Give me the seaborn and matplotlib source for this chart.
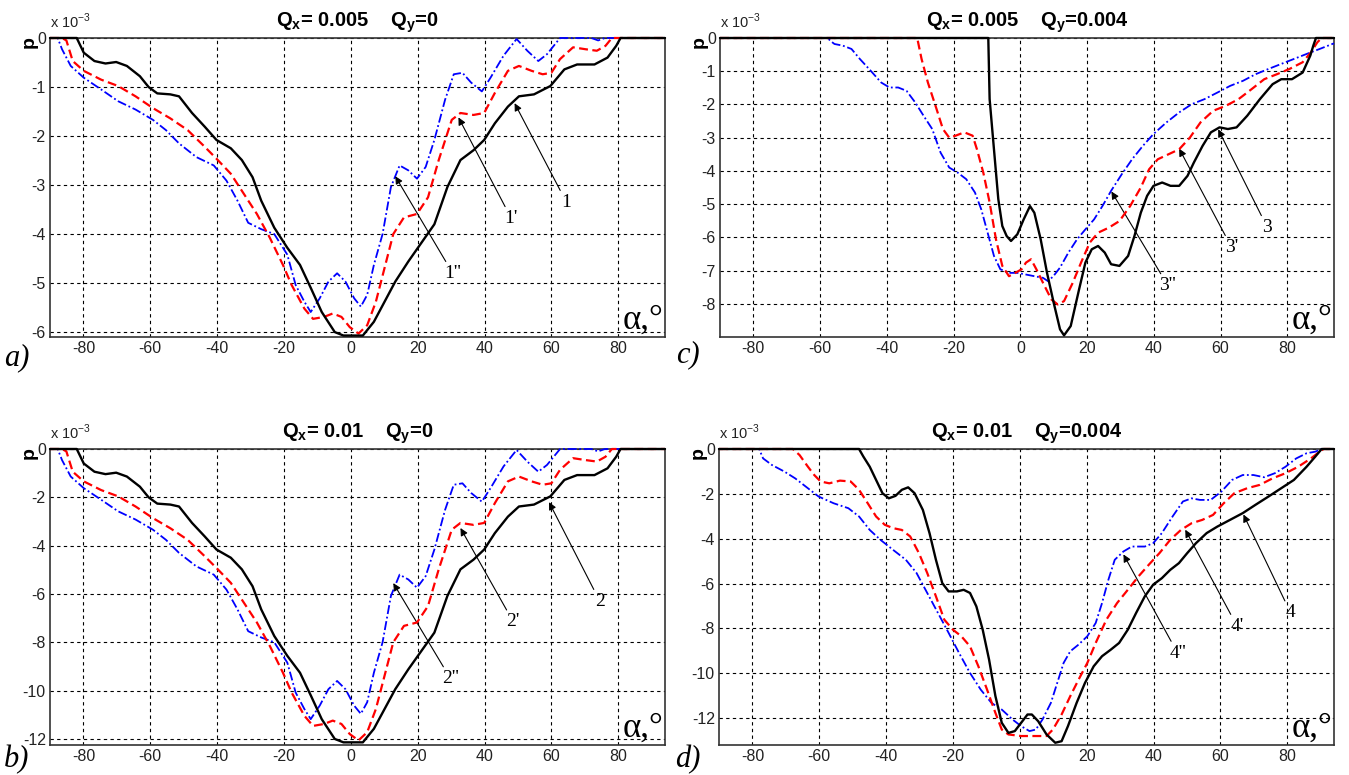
import numpy as np
import pandas as pd
import matplotlib
matplotlib.use("Agg")
import matplotlib.pyplot as plt
import seaborn as sns
from matplotlib import font_manager

# ---------------- data ----------------
# Panel a: Qx=0.005, Qy=0
a_black_x = [-90, -82, -79.9, -76.7, -73.4, -70.2, -67, -63.1, -60.5, -57.9, -54, -51.4, -47.5, -43.7, -40.2, -35.9, -32.6, -29.4, -26.8, -22.9, -19, -15.2, -11.9, -8.7, -4.8, -2.2, 0.4, 3.6, 6.9, 10.1, 13.3, 17.2, 21.1, 25, 28.9, 32.8, 36.7, 39.9, 43.1, 47, 50.3, 54.8, 59.7, 63.9, 67.7, 72.9, 76.8, 79.4, 80.7, 94]
a_black_y = [0, 0, -0.30, -0.47, -0.52, -0.49, -0.57, -0.78, -1.0, -1.13, -1.15, -1.19, -1.53, -1.81, -2.08, -2.25, -2.49, -2.84, -3.32, -3.87, -4.28, -4.63, -5.11, -5.59, -6.0, -6.07, -6.07, -6.07, -5.79, -5.38, -4.97, -4.56, -4.18, -3.8, -3.04, -2.49, -2.29, -2.08, -1.74, -1.4, -1.19, -1.15, -0.98, -0.64, -0.54, -0.54, -0.4, -0.16, 0, 0]
a_red_x = [-90, -86.4, -85.1, -83.2, -79.9, -74.7, -69.6, -64.4, -59.2, -54, -48.8, -43.7, -39.8, -35.9, -32, -28.1, -24.2, -20.3, -17.7, -13.9, -11.3, -8, -5.4, -2.8, -0.3, 2.3, 4.9, 7.5, 10.1, 12.7, 15.9, 19.8, 23.1, 26.3, 30.2, 32.8, 36.7, 39.9, 43.1, 47, 50.3, 54.1, 57.4, 60, 62.6, 66.5, 70.3, 73.6, 76.2, 78.1, 94]
a_red_y = [0, 0, -0.05, -0.47, -0.67, -0.85, -0.98, -1.19, -1.43, -1.64, -1.88, -2.22, -2.49, -2.77, -3.18, -3.59, -4.08, -4.63, -5.04, -5.52, -5.73, -5.69, -5.62, -5.69, -5.9, -6.03, -5.86, -5.38, -4.69, -4.0, -3.66, -3.59, -3.25, -2.49, -1.67, -1.53, -1.57, -1.53, -1.12, -0.67, -0.57, -0.67, -0.74, -0.71, -0.43, -0.19, -0.23, -0.26, -0.16, 0, 0]
a_blue_x = [-90, -87.7, -86.4, -83.8, -79.9, -74.7, -69.6, -64.4, -59.2, -55.3, -51.4, -46.2, -41, -37.2, -33.9, -30.7, -26.8, -22.9, -19, -16.5, -13.9, -12, -9.3, -6.7, -4.1, -1.6, 1, 3, 4.9, 6.9, 9.5, 12, 14.6, 17.2, 19.8, 22.4, 25, 28.2, 30.8, 33.4, 36, 39.2, 41.8, 45.7, 49.6, 52.8, 56.1, 58.7, 62.6, 72, 74, 76, 94]
a_blue_y = [0, 0, -0.23, -0.57, -0.81, -1.05, -1.29, -1.46, -1.67, -1.88, -2.15, -2.43, -2.6, -2.91, -3.32, -3.77, -3.9, -4.0, -4.42, -5.04, -5.38, -5.59, -5.31, -4.97, -4.8, -4.97, -5.31, -5.48, -5.24, -4.63, -4.0, -3.04, -2.6, -2.7, -2.87, -2.63, -2.08, -1.26, -0.74, -0.71, -0.91, -1.09, -0.81, -0.36, -0.02, -0.26, -0.47, -0.33, 0, 0, -0.05, 0, 0]

# Panel b: Qx=0.01, Qy=0
b_black_x = [-90, -82, -79.9, -76.7, -73.4, -70.2, -67, -63.1, -60.5, -57.9, -54, -51.4, -47.5, -43.7, -40.2, -35.9, -32.6, -29.4, -26.8, -22.9, -19, -15.2, -11.9, -8.7, -4.8, -2.2, 0.4, 3.6, 6.9, 10.1, 13.3, 17.2, 21.1, 25, 28.9, 32.8, 36.7, 39.9, 43.1, 47, 50.3, 54.8, 59.7, 63.9, 67.7, 72.9, 76.8, 79.4, 80.7, 94]
b_black_y = [0, 0, -0.6, -0.94, -1.04, -0.98, -1.14, -1.56, -2.0, -2.26, -2.3, -2.38, -3.06, -3.62, -4.16, -4.5, -4.98, -5.68, -6.64, -7.74, -8.56, -9.26, -10.22, -11.18, -12.0, -12.14, -12.14, -12.14, -11.58, -10.76, -9.94, -9.12, -8.36, -7.6, -6.08, -4.98, -4.58, -4.16, -3.48, -2.8, -2.38, -2.3, -1.96, -1.28, -1.08, -1.08, -0.8, -0.32, 0, 0]
b_red_x = [-90, -86.4, -85.1, -83.2, -79.9, -74.7, -69.6, -64.4, -59.2, -54, -48.8, -43.7, -39.8, -35.9, -32, -28.1, -24.2, -20.3, -17.7, -13.9, -11.3, -8, -5.4, -2.8, -0.3, 2.3, 4.9, 7.5, 10.1, 12.7, 15.9, 19.8, 23.1, 26.3, 30.2, 32.8, 36.7, 39.9, 43.1, 47, 50.3, 54.1, 57.4, 60, 62.6, 66.5, 70.3, 73.6, 76.2, 78.1, 94]
b_red_y = [0, 0, -0.1, -0.94, -1.34, -1.7, -1.96, -2.38, -2.86, -3.28, -3.76, -4.44, -4.98, -5.54, -6.36, -7.18, -8.16, -9.26, -10.08, -11.04, -11.46, -11.38, -11.24, -11.38, -11.8, -12.06, -11.72, -10.76, -9.38, -8.0, -7.32, -7.18, -6.5, -4.98, -3.34, -3.06, -3.14, -3.06, -2.24, -1.34, -1.14, -1.34, -1.48, -1.42, -0.86, -0.38, -0.46, -0.52, -0.32, 0, 0]
b_blue_x = [-90, -87.7, -86.4, -83.8, -79.9, -74.7, -69.6, -64.4, -59.2, -55.3, -51.4, -46.2, -41, -37.2, -33.9, -30.7, -26.8, -22.9, -19, -16.5, -13.9, -12, -9.3, -6.7, -4.1, -1.6, 1, 3, 4.9, 6.9, 9.5, 12, 14.6, 17.2, 19.8, 22.4, 25, 28.2, 30.8, 33.4, 36, 39.2, 41.8, 45.7, 49.6, 52.8, 56.1, 58.7, 62.6, 72, 74, 76, 94]
b_blue_y = [0, 0, -0.46, -1.14, -1.62, -2.1, -2.58, -2.92, -3.34, -3.76, -4.3, -4.86, -5.2, -5.82, -6.64, -7.54, -7.8, -8.0, -8.84, -10.08, -10.76, -11.18, -10.62, -9.94, -9.6, -9.94, -10.62, -10.96, -10.48, -9.26, -8.0, -6.08, -5.2, -5.4, -5.74, -5.26, -4.16, -2.52, -1.48, -1.42, -1.82, -2.18, -1.62, -0.72, -0.04, -0.52, -0.94, -0.66, 0, 0, -0.1, 0, 0]

# Panel c: Qx=0.005, Qy=0.004
c_black_x = [-90, -9.6, -9.2, -7.9, -6.6, -5.4, -4.1, -2.8, -0.9, 1, 2.9, 4.2, 6.1, 8, 10, 11.9, 13.1, 15.1, 17.6, 19.5, 21.4, 23.3, 25.3, 27.2, 29.7, 32.3, 34.2, 36.1, 38, 39.9, 42.5, 45, 47.6, 50.1, 52, 54.6, 57.1, 59.7, 62.2, 64.8, 68, 71.8, 75.6, 78.2, 81.4, 84.6, 86.9, 87.8, 88.6, 94]
c_black_y = [0, 0, -1.84, -3.35, -4.85, -5.66, -5.96, -6.11, -5.91, -5.46, -5.06, -5.26, -6.06, -7.07, -7.97, -8.77, -8.95, -8.67, -7.57, -6.76, -6.36, -6.26, -6.46, -6.81, -6.86, -6.56, -5.96, -5.26, -4.75, -4.45, -4.35, -4.45, -4.45, -4.15, -3.75, -3.25, -2.84, -2.69, -2.74, -2.69, -2.34, -1.84, -1.39, -1.24, -1.24, -1.04, -0.53, -0.23, 0, 0]
c_red_x = [-90, -30.9, -29.6, -27.7, -25.1, -23.2, -21.3, -19.4, -16.8, -14.3, -13, -11.1, -9.2, -7.3, -5.4, -3.4, -1.5, 0.4, 1.7, 3.2, 4.8, 6.8, 9.3, 11.2, 13.1, 15.7, 18.2, 20.8, 23.3, 26.5, 29.7, 32.9, 36.1, 38.6, 41.2, 44.4, 47.6, 50.8, 54, 57.8, 61.6, 65.4, 69.3, 73.1, 76.9, 80.7, 84.6, 87.1, 89, 90.3, 94]
c_red_y = [0, 0, -0.63, -1.34, -2.14, -2.74, -3.0, -2.94, -2.84, -2.94, -3.35, -4.05, -4.95, -6.06, -6.86, -7.17, -7.07, -6.96, -6.76, -6.66, -6.96, -7.37, -7.87, -8.02, -7.92, -7.37, -6.76, -6.16, -5.86, -5.71, -5.51, -5.06, -4.5, -3.95, -3.65, -3.5, -3.35, -3.0, -2.54, -2.19, -2.04, -1.84, -1.54, -1.24, -1.09, -0.93, -0.73, -0.43, -0.13, 0, 0]
c_blue_x = [-90, -57.7, -57, -55.7, -53.2, -50.6, -48.1, -44.9, -41.7, -39.2, -36.6, -34.1, -31.5, -29, -26.4, -23.9, -21.3, -18.8, -16.2, -13.6, -11.7, -9.8, -7.9, -6, -3.4, -0.9, 1.7, 4.2, 6.8, 8.3, 9.9, 11.9, 14.4, 17, 19.5, 22.1, 24.6, 27.2, 30.4, 33.5, 36.7, 39.9, 43.8, 47.6, 51.4, 55.2, 59.1, 62.9, 66.7, 70.5, 74.4, 78.2, 82, 85.8, 89.7, 93.5, 94]
c_blue_y = [0, 0, -0.08, -0.18, -0.23, -0.33, -0.63, -0.98, -1.34, -1.49, -1.49, -1.59, -1.94, -2.34, -2.74, -3.45, -3.9, -4.05, -4.25, -4.65, -5.16, -5.86, -6.56, -6.96, -7.07, -7.07, -7.12, -7.17, -7.22, -7.32, -7.17, -6.91, -6.46, -6.06, -5.76, -5.46, -5.06, -4.6, -4.1, -3.65, -3.25, -2.89, -2.54, -2.24, -1.99, -1.84, -1.64, -1.44, -1.29, -1.09, -0.93, -0.78, -0.63, -0.48, -0.33, -0.18, -0.16]

# Panel d: Qx=0.01, Qy=0.004
d_black_x = [-90, -48.1, -46.8, -44.9, -43, -41.1, -39.2, -37.2, -35.3, -33.4, -31.5, -29, -27, -25.1, -23.2, -21.3, -18.8, -16.8, -14.9, -13, -11.1, -9.2, -7.3, -5.4, -3.4, -1.5, 0.4, 2.3, 3.6, 5.5, 8, 10.6, 12.5, 14.4, 17, 19.5, 22.1, 24.6, 27.2, 29.7, 32.3, 34.8, 37.4, 39.9, 42.5, 45, 47.6, 50.1, 52.7, 55.9, 59.1, 62.9, 66.7, 70.5, 74.4, 78.2, 82, 85.8, 88.4, 90.3, 94]
d_black_y = [0, 0, -0.34, -0.79, -1.38, -1.97, -2.2, -2.09, -1.82, -1.71, -1.97, -2.72, -3.76, -4.94, -5.98, -6.35, -6.35, -6.28, -6.42, -7.02, -8.06, -9.39, -11.02, -12.21, -12.66, -12.58, -12.21, -11.84, -11.84, -12.14, -12.73, -13.1, -13.03, -12.36, -11.32, -10.43, -9.69, -9.24, -8.95, -8.65, -8.06, -7.31, -6.57, -6.05, -5.76, -5.39, -5.09, -4.64, -4.2, -3.75, -3.46, -3.16, -2.86, -2.49, -2.12, -1.75, -1.38, -0.79, -0.34, 0, 0]
d_red_x = [-90, -67.9, -65.9, -63.4, -61.5, -59.6, -57, -53.8, -50.6, -48.1, -45.5, -43, -40.4, -37.9, -35.3, -32.8, -30.2, -27.7, -25.1, -22.6, -20, -17.5, -14.9, -12.4, -9.8, -7.3, -5.4, -3.4, 0.4, 4.2, 8, 9.9, 12.5, 15.1, 17.6, 20.2, 22.7, 25.9, 29.1, 32.3, 35.5, 38.6, 41.8, 45, 48.2, 51.4, 54.6, 57.8, 61, 64.2, 68, 71.8, 75.6, 79.5, 83.3, 87.1, 89.7, 90.9, 94]
d_red_y = [0, 0, -0.27, -0.79, -1.16, -1.45, -1.53, -1.41, -1.45, -1.82, -2.42, -3.01, -3.38, -3.53, -3.61, -3.9, -4.64, -5.53, -6.57, -7.61, -8.06, -8.35, -8.8, -9.69, -10.73, -11.77, -12.51, -12.73, -12.8, -12.8, -12.8, -12.51, -11.84, -11.02, -10.28, -9.54, -8.65, -7.61, -6.87, -6.28, -5.68, -5.16, -4.64, -4.05, -3.61, -3.31, -3.16, -2.94, -2.42, -1.97, -1.75, -1.6, -1.31, -1.08, -0.79, -0.42, -0.12, 0, 0]
d_blue_x = [-90, -78, -76.8, -74.2, -70.4, -67.2, -63.4, -60.2, -55.7, -51.3, -48.1, -44.9, -41.7, -37.9, -34.1, -30.9, -27.7, -24.5, -21.3, -18.2, -14.9, -11.7, -8.5, -5.4, -2.2, 0.4, 2.9, 4.8, 6.8, 9.3, 11.2, 13.1, 15.1, 17.6, 20.2, 22.7, 24.6, 26.5, 28.4, 31, 33.5, 37.4, 39.9, 42.5, 45.7, 48.8, 51.4, 53.9, 57.1, 60.3, 63.5, 66.7, 69.9, 73.1, 76.3, 79.5, 82.7, 85.8, 88.4, 90.3, 94]
d_blue_y = [0, 0, -0.42, -0.71, -1.01, -1.31, -1.75, -2.12, -2.42, -2.64, -3.01, -3.61, -4.05, -4.5, -4.94, -5.53, -6.42, -7.31, -8.2, -9.09, -9.99, -10.73, -11.32, -11.62, -12.06, -12.36, -12.58, -12.51, -12.06, -11.32, -10.43, -9.54, -9.02, -8.72, -8.35, -7.76, -6.87, -5.83, -4.94, -4.57, -4.35, -4.35, -4.2, -3.75, -3.01, -2.34, -2.2, -2.27, -2.27, -1.9, -1.38, -1.16, -1.16, -1.26, -1.08, -0.79, -0.42, -0.19, -0.12, 0, 0]

qx_values = ["0.005", "0.005", "0.01", "0.01"]
qy_values = ["0", "0.004", "0", "0.004"]
panel_letters = ["a)", "c)", "b)", "d)"]
x_ticks = [-80, -60, -40, -20, 0, 20, 40, 60, 80]
y_ticks_list = [[0, -1, -2, -3, -4, -5, -6], [0, -1, -2, -3, -4, -5, -6, -7, -8],
                [0, -2, -4, -6, -8, -10, -12], [0, -2, -4, -6, -8, -10, -12]]
y_bottoms = [-6.1, -9.0, -12.25, -13.2]

# annotation labels: (text, text position, arrow tip)
ann_a = [("1", (64.5, -3.35), (49.0, -1.33)), ("1'", (48.0, -3.68), (32.2, -1.62)), ("1''", (30.5, -4.8), (13.3, -2.82))]
ann_c = [("3", (74.0, -5.7), (59.3, -2.75)), ("3'", (63.3, -6.3), (47.6, -3.33)), ("3''", (44.2, -7.45), (27.3, -4.62))]
ann_b = [("2", (74.5, -6.3), (59.3, -2.2)), ("2'", (48.6, -7.15), (32.8, -3.27)), ("2''", (29.8, -9.5), (12.7, -5.55))]
ann_d = [("4", (81.0, -7.3), (66.9, -2.92)), ("4'", (65.0, -7.9), (49.5, -3.6)), ("4''", (47.2, -9.1), (31.0, -4.7))]

# ---------------- styling ----------------
sns.set_theme(style="white")
installed = {f.name for f in font_manager.fontManager.ttflist}
sans = "Liberation Sans" if "Liberation Sans" in installed else "DejaVu Sans"
serif = "Liberation Serif" if "Liberation Serif" in installed else "DejaVu Serif"
plt.rcParams["font.family"] = [sans, "DejaVu Sans"]
plt.rcParams["mathtext.fontset"] = "custom"
plt.rcParams["mathtext.rm"] = sans
plt.rcParams["mathtext.bf"] = sans + ":bold"

W, H = 1349, 775
fig = plt.figure(figsize=(W / 100, H / 100), dpi=100)
fig.patch.set_facecolor("white")

# axes boxes in pixel coords (left, top, right, bottom)
boxes = [(50, 38, 665, 337), (720, 38, 1334, 337), (50, 449, 665, 745), (719, 449, 1334, 745)]

panels = [
    (a_black_x, a_black_y, a_red_x, a_red_y, a_blue_x, a_blue_y, ann_a),
    (c_black_x, c_black_y, c_red_x, c_red_y, c_blue_x, c_blue_y, ann_c),
    (b_black_x, b_black_y, b_red_x, b_red_y, b_blue_x, b_blue_y, ann_b),
    (d_black_x, d_black_y, d_red_x, d_red_y, d_blue_x, d_blue_y, ann_d),
]

letter_pos = [(4, 365), (676, 362), (4, 767), (675, 767)]

for i, (bx, by, rx, ry, ux, uy, anns) in enumerate(panels):
    l, t, r, b = boxes[i]
    ax = fig.add_axes([l / W, 1 - b / H, (r - l) / W, (b - t) / H])
    ax.set_facecolor("white")

    df_k = pd.DataFrame({"x": bx, "y": by})
    df_r = pd.DataFrame({"x": rx, "y": ry})
    df_b = pd.DataFrame({"x": ux, "y": uy})
    sns.lineplot(data=df_b, x="x", y="y", ax=ax, color="#0000ff", lw=1.3,
                 linestyle=(0, (5, 1.5, 1, 1.5)), estimator=None, sort=False, clip_on=False, zorder=3)
    sns.lineplot(data=df_r, x="x", y="y", ax=ax, color="#ff0000", lw=1.6,
                 linestyle=(0, (4, 2)), estimator=None, sort=False, clip_on=False, zorder=4)
    sns.lineplot(data=df_k, x="x", y="y", ax=ax, color="black", lw=1.7,
                 estimator=None, sort=False, clip_on=False, zorder=5)

    ax.set_xlim(-90, 94)
    ax.set_ylim(y_bottoms[i], 0)
    ax.set_xticks(x_ticks)
    ax.set_xticklabels([str(v) for v in x_ticks])
    yt = y_ticks_list[i]
    ax.set_yticks(yt)
    ax.set_yticklabels([str(v) for v in yt])
    ax.grid(True, color="black", linestyle=(0, (3, 3)), linewidth=0.8)
    ax.tick_params(axis="both", direction="in", length=5, width=0.8, colors="#222222",
                   labelsize=11.5, pad=3, top=False, right=False)
    for s in ax.spines.values():
        s.set_color("#333333")
        s.set_linewidth(1.2)
        s.set_visible(True)
    ax.set_xlabel("")
    ax.set_ylabel("")

    # title
    ax.set_title(r"$\mathbf{Q}_{\mathbf{x}}$= " + qx_values[i] + r"    $\mathbf{Q}_{\mathbf{y}}$=" + qy_values[i],
                 fontsize=14.5, fontweight="bold", pad=8, color="black")
    # exponent marker
    ax.text(0.0, 1.025, r"x 10$^{-3}$", transform=ax.transAxes, ha="left", va="bottom",
            fontsize=10.5, color="#222222")
    # y label p
    ax.text(-0.034, 0.985, "p", transform=ax.transAxes, rotation=90, ha="center", va="center",
            fontsize=14, fontweight="bold", color="black")
    # alpha label
    ax.text(0.997, 0.0, "α,°", transform=ax.transAxes, ha="right", va="bottom",
            fontsize=25, family=[serif, "DejaVu Serif"], color="black")
    # annotations
    for lab, tpos, tip in anns:
        ax.annotate(lab, xy=tip, xytext=tpos, ha="center", va="center",
                    fontsize=14, family=[serif, "DejaVu Serif"], color="black",
                    arrowprops=dict(arrowstyle="-|>", color="black", lw=0.8,
                                    mutation_scale=11, shrinkA=0, shrinkB=0))
    fx, fy = letter_pos[i]
    fig.text(fx / W, 1 - fy / H, panel_letters[i], ha="left", va="baseline", fontsize=22,
             style="italic", family=[serif, "DejaVu Serif"], color="black")

fig.savefig("out.png", dpi=100, facecolor="white")
